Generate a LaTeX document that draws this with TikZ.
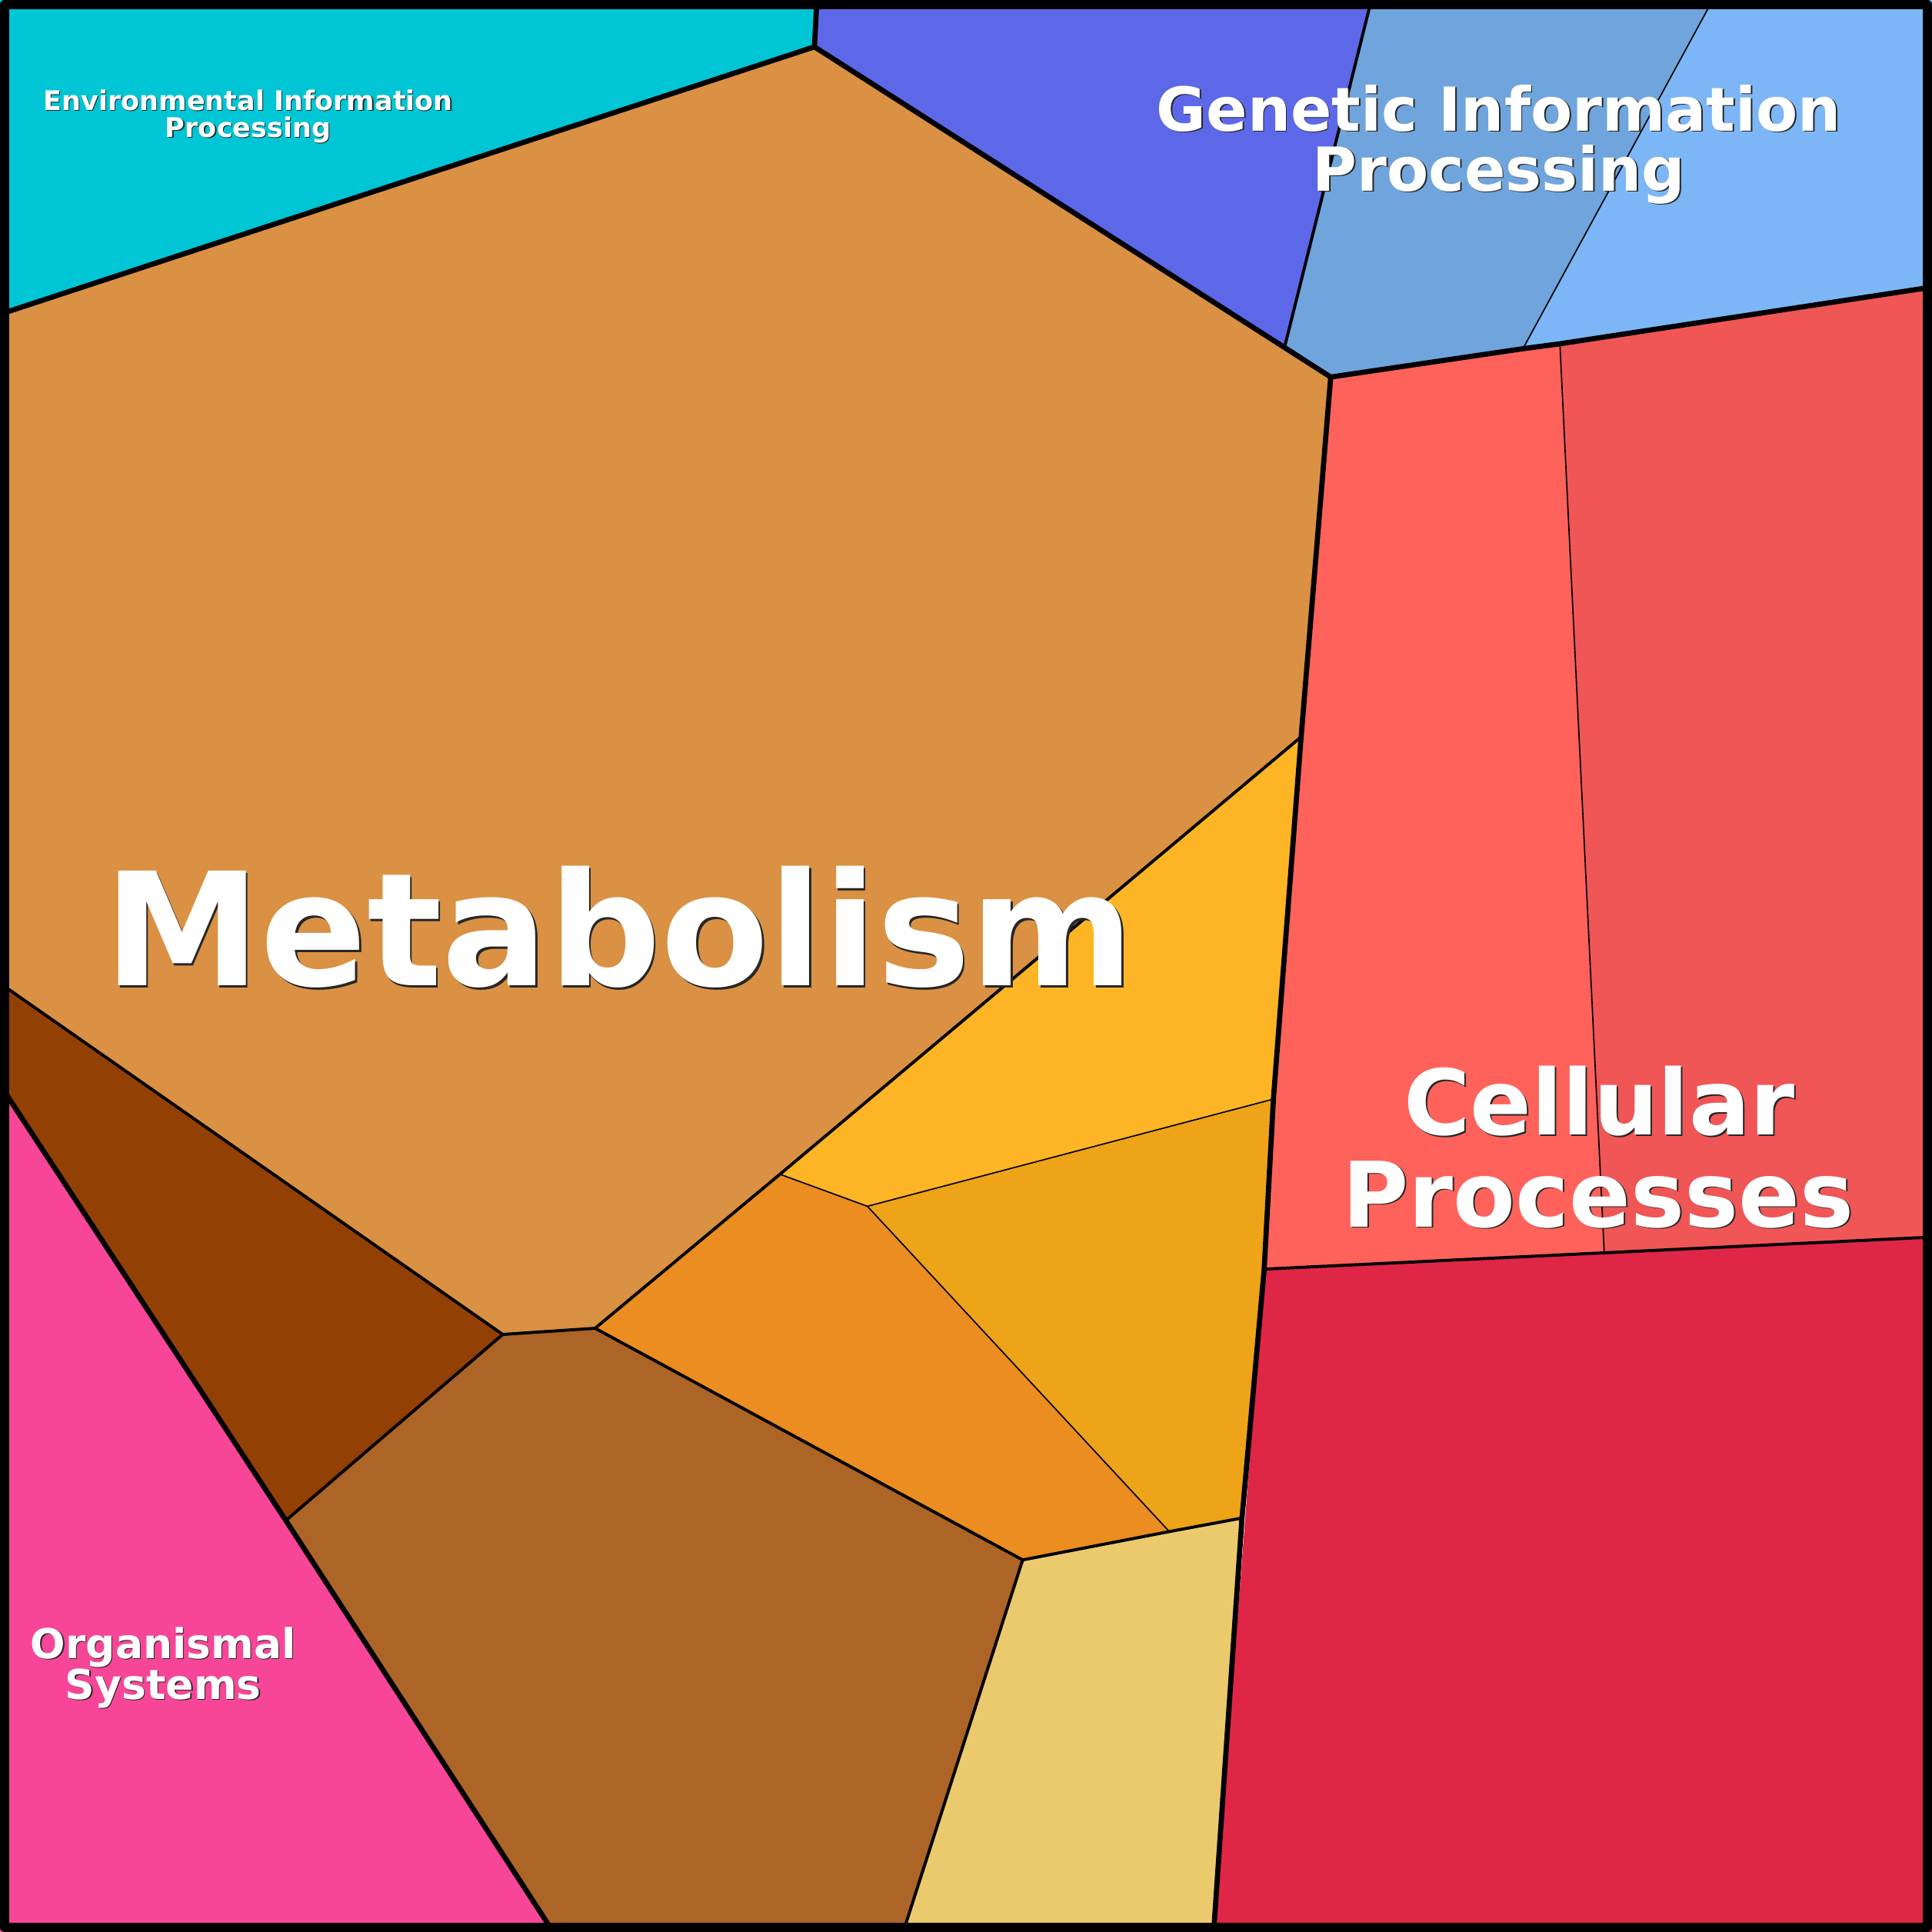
\documentclass[tikz,border=0pt]{standalone}
\usepackage{fontspec}
\setmainfont{DejaVu Sans}
\definecolor{cEnv}{HTML}{00C5D5}
\definecolor{cTan}{HTML}{DA9143}
\definecolor{cDBrown}{HTML}{934004}
\definecolor{cMBrown}{HTML}{AD6427}
\definecolor{cPink}{HTML}{F74598}
\definecolor{cYel}{HTML}{FDB526}
\definecolor{cDYel}{HTML}{EEA419}
\definecolor{cOra}{HTML}{EB8D20}
\definecolor{cLTan}{HTML}{EBCA6E}
\definecolor{cDBlue}{HTML}{5D68E9}
\definecolor{cMBlue}{HTML}{6FA5DC}
\definecolor{cLBlue}{HTML}{7CB6F6}
\definecolor{cLRed}{HTML}{FF625B}
\definecolor{cMRed}{HTML}{F05656}
\definecolor{cDRed}{HTML}{E02646}
% #1 name, #2 x, #3 y, #4 font size (pt), #5 shadow offset, #6 text
\newcommand\mylabel[6]{%
  \node[lbl, text=black!85, font=\fontsize{#4}{#4}\selectfont\bfseries] (#1s) at ({#2+#5},{#3+#5}) {#6};
  \node[lbl, text=white, font=\fontsize{#4}{#4}\selectfont\bfseries] (#1) at (#2,#3) {#6};}
\begin{document}
\begin{tikzpicture}[x=0.01cm,y=-0.01cm,line join=round,line cap=round,
  lvlA/.style={line width=1.19pt},
  lvlB/.style={line width=0.7pt},
  lvlC/.style={line width=0.3pt},
  lbl/.style={anchor=base,inner sep=0pt,outer sep=0pt}]
\useasboundingbox (0,0) rectangle (1568,1568);
% vertices
\coordinate (TL) at (0,0);
\coordinate (TR) at (1568,0);
\coordinate (BR) at (1568,1568);
\coordinate (BL) at (0,1568);
\coordinate (A) at (663,0);
\coordinate (B) at (661,38);
\coordinate (C) at (0,255);
\coordinate (D) at (1080,306);
\coordinate (E) at (1113,0);
\coordinate (F) at (1042.5,282);
\coordinate (G) at (1390,0);
\coordinate (H) at (1236,283);
\coordinate (I) at (1568,233);
\coordinate (J) at (1266,279);
\coordinate (K) at (1302,1017);
\coordinate (L) at (1568,1004);
\coordinate (M) at (1026,1030);
\coordinate (N) at (985,1568);
\coordinate (P) at (1056,598);
\coordinate (Q) at (1033.5,892);
\coordinate (R) at (1008,1232);
\coordinate (S) at (633,953);
\coordinate (T) at (704,979);
\coordinate (U) at (949,1243);
\coordinate (V) at (830,1266);
\coordinate (W) at (733,1568);
\coordinate (X) at (483,1078);
\coordinate (Y) at (408,1083);
\coordinate (Z) at (0,798);
\coordinate (AA) at (0,880.4);
\coordinate (AB) at (232,1234);
\coordinate (AC) at (449,1568);
% fills
\fill[cEnv] (TL) -- (A) -- (B) -- (C) -- cycle;
\fill[cTan] (C) -- (B) -- (F) -- (D) -- (P) -- (S) -- (X) -- (Y) -- (Z) -- cycle;
\fill[cDBrown] (Z) -- (Y) -- (AB) -- (AA) -- cycle;
\fill[cMBrown] (Y) -- (X) -- (V) -- (W) -- (AC) -- (AB) -- cycle;
\fill[cPink] (AA) -- (AC) -- (BL) -- cycle;
\fill[cYel] (P) -- (Q) -- (T) -- (S) -- cycle;
\fill[cDYel] (T) -- (Q) -- (M) -- (R) -- (U) -- cycle;
\fill[cOra] (S) -- (T) -- (U) -- (V) -- (X) -- cycle;
\fill[cLTan] (V) -- (U) -- (R) -- (N) -- (W) -- cycle;
\fill[cDBlue] (A) -- (E) -- (F) -- (B) -- cycle;
\fill[cMBlue] (E) -- (G) -- (H) -- (D) -- (F) -- cycle;
\fill[cLBlue] (G) -- (TR) -- (I) -- (H) -- cycle;
\fill[cLRed] (D) -- (J) -- (K) -- (M) -- (Q) -- (P) -- cycle;
\fill[cMRed] (J) -- (I) -- (L) -- (K) -- cycle;
\fill[cDRed] (M) -- (L) -- (BR) -- (N) -- cycle;
% thin boundaries
\draw[lvlC] (G) -- (H);
\draw[lvlC] (J) -- (K);
\draw[lvlC] (S) -- (T) -- (Q);
\draw[lvlC] (T) -- (U);
% medium boundaries
\draw[lvlB] (E) -- (F);
\draw[lvlB] (M) -- (L);
\draw[lvlB] (Z) -- (Y) -- (X) -- (S) -- (P);
\draw[lvlB] (Y) -- (AB);
\draw[lvlB] (X) -- (V) -- (U) -- (R);
\draw[lvlB] (V) -- (W);
% thick boundaries
\draw[lvlA] (A) -- (B) -- (C);
\draw[lvlA] (B) -- (F) -- (D) -- (H) -- (J) -- (I);
\draw[lvlA] (D) -- (P) -- (Q) -- (M) -- (R) -- (N);
\draw[lvlA] (AA) -- (AB) -- (AC);
% outer frame
\draw[line width=2.13pt,line cap=butt] (3.75,3.75) rectangle (1564.25,1564.25);
% labels
\mylabel{env1}{201.4}{89.3}{6.22}{0.7}{Environmental Information}
\mylabel{env2}{201.4}{111.3}{6.22}{0.7}{Processing}
\mylabel{gen1}{1216.5}{106.1}{14.0}{1.1}{Genetic Information}
\mylabel{gen2}{1216.5}{154.8}{14.0}{1.1}{Processing}
\mylabel{met}{502.5}{800}{36.3}{1.6}{Metabolism}
\mylabel{cel1}{1298}{921.3}{20.9}{1.2}{Cellular}
\mylabel{cel2}{1297}{995.6}{20.9}{1.2}{Processes}
\mylabel{org1}{132.5}{1345.8}{9.5}{0.8}{Organismal}
\mylabel{org2}{132.5}{1379}{9.5}{0.8}{Systems}
\end{tikzpicture}
\end{document}
